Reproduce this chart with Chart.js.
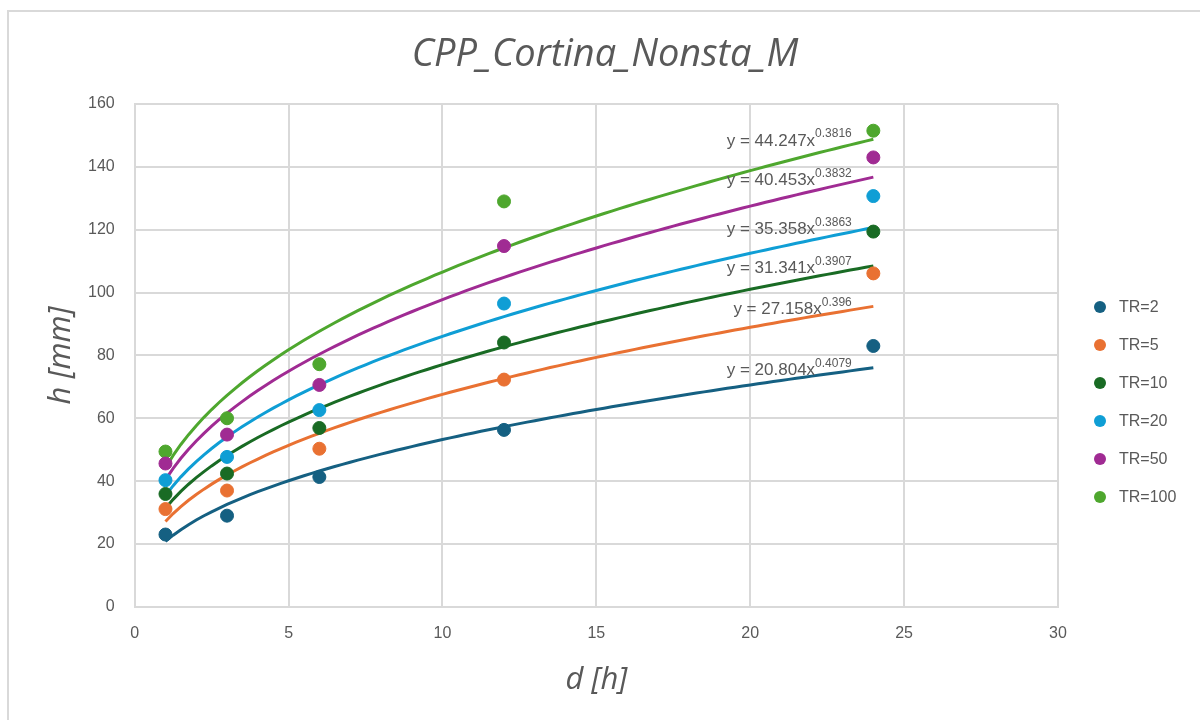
<!DOCTYPE html>
<html>
<head>
<meta charset="utf-8">
<script src="https://cdn.jsdelivr.net/npm/chart.js@4"></script>
<style>
  html, body { margin: 0; padding: 0; background: #fff; }
  #wrap { width: 1200px; height: 720px; position: relative; }
</style>
</head>
<body>
<div id="wrap"><canvas id="chart" width="1200" height="720"></canvas></div>
<script>
// -------------------------    Data    -------------------------

var chartTitle = 'CPP_Cortina_Nonsta_M';
var durations = [1, 3, 6, 12, 24];
var seriesNames = ['TR=2', 'TR=5', 'TR=10', 'TR=20', 'TR=50', 'TR=100'];

var tr2 = [23.0, 29.0, 41.3, 56.3, 83.0];
var tr5 = [31.1, 37.0, 50.3, 72.3, 106.1];
var tr10 = [35.9, 42.4, 56.9, 84.1, 119.4];
var tr20 = [40.3, 47.7, 62.6, 96.5, 130.7];
var tr50 = [45.6, 54.8, 70.6, 114.8, 143.0];
var tr100 = [49.4, 60.0, 77.2, 129.0, 151.5];

// power trendlines y = a * x^b, as printed on the chart
var trendA = [20.804, 27.158, 31.341, 35.358, 40.453, 44.247];
var trendB = [0.4079, 0.396, 0.3907, 0.3863, 0.3832, 0.3816];
var trendA_text = ['20.804', '27.158', '31.341', '35.358', '40.453', '44.247'];
var trendB_text = ['0.4079', '0.396', '0.3907', '0.3863', '0.3832', '0.3816'];

var colors = ['#156082', '#e97132', '#196b24', '#0f9ed5', '#a02b93', '#4ea72e'];

var xTicks = [0, 5, 10, 15, 20, 25, 30];
var yTicks = [0, 20, 40, 60, 80, 100, 120, 140, 160];

// -------------------------    Datasets    -------------------------

var allValues = [tr2, tr5, tr10, tr20, tr50, tr100];
var datasets = [];
var trendX = [];
for (var t = 1; t <= 24.0001; t += 0.25) trendX.push(t);

allValues.forEach(function (vals, i) {
    datasets.push({
        label: seriesNames[i],
        data: durations.map(function (d, k) { return { x: d, y: vals[k] }; }),
        backgroundColor: colors[i],
        borderColor: colors[i],
        pointRadius: 6.5,
        pointHoverRadius: 6.5,
        showLine: false,
        order: 1
    });
});

allValues.forEach(function (vals, i) {
    datasets.push({
        label: 'trend ' + seriesNames[i],
        isTrend: true,
        data: trendX.map(function (x) { return { x: x, y: trendA[i] * Math.pow(x, trendB[i]) }; }),
        borderColor: colors[i],
        borderWidth: 3,
        pointRadius: 0,
        showLine: true,
        fill: false,
        tension: 0,
        order: 2
    });
});

// trendline label anchors (data units, right edge / middle)
var labelAnchor = [[23.3, 75.6], [23.3, 94.9], [23.3, 107.9], [23.3, 120.3], [23.3, 135.9], [23.3, 148.6]];

// -------------------------    Plugins    -------------------------

var FONT = '"Liberation Sans", Arial, sans-serif';

var trendLabels = {
    id: 'trendLabels',
    afterDatasetsDraw: function (chart) {
        var ctx = chart.ctx;
        var xs = chart.scales.x, ys = chart.scales.y;
        ctx.save();
        ctx.fillStyle = '#595959';
        ctx.textBaseline = 'middle';
        ctx.textAlign = 'left';
        trendA_text.forEach(function (a, i) {
            var main = 'y = ' + a + 'x';
            var sup = trendB_text[i];
            ctx.font = '17px ' + FONT;
            var wMain = ctx.measureText(main).width;
            ctx.font = '12px ' + FONT;
            var wSup = ctx.measureText(sup).width;
            var right = xs.getPixelForValue(labelAnchor[i][0]);
            var yMid = ys.getPixelForValue(labelAnchor[i][1]);
            var left = right - wMain - wSup;
            ctx.font = '17px ' + FONT;
            ctx.fillText(main, left, yMid + 1);
            ctx.font = '12px ' + FONT;
            ctx.fillText(sup, left + wMain, yMid - 6);
        });
        ctx.restore();
    }
};

// title and legend drawn by hand so they sit where the original has them
var titleAndLegend = {
    id: 'titleAndLegend',
    afterDraw: function (chart) {
        var ctx = chart.ctx;
        ctx.save();
        ctx.fillStyle = '#595959';
        ctx.textAlign = 'center';
        ctx.textBaseline = 'middle';
        ctx.font = 'italic 38px "Open Sans", sans-serif';
        ctx.fillText(chartTitle, 605, 55);

        ctx.font = '16px ' + FONT;
        ctx.textAlign = 'left';
        seriesNames.forEach(function (name, i) {
            var y = 307 + i * 38;
            ctx.fillStyle = colors[i];
            ctx.beginPath();
            ctx.arc(1100, y, 6, 0, Math.PI * 2);
            ctx.fill();
            ctx.fillStyle = '#595959';
            ctx.fillText(name, 1119, y + 1);
        });
        ctx.restore();
    }
};

var frame = {
    id: 'frame',
    beforeDraw: function (chart) {
        var ctx = chart.ctx;
        ctx.save();
        ctx.fillStyle = '#ffffff';
        ctx.fillRect(0, 0, chart.width, chart.height);
        ctx.strokeStyle = '#d9d9d9';
        ctx.lineWidth = 2;
        ctx.beginPath();
        ctx.moveTo(8, 720);
        ctx.lineTo(8, 11);
        ctx.lineTo(1200, 11);
        ctx.stroke();
        ctx.restore();
    }
};

// -------------------------    Chart Setup    -------------------------

var ctx = document.getElementById('chart').getContext('2d');
var chart = new Chart(ctx, {
    type: 'scatter',
    data: { datasets: datasets },
    plugins: [frame, trendLabels, titleAndLegend],
    options: {
        responsive: false,
        animation: false,
        layout: { padding: { left: 46, right: 142, top: 104, bottom: 24 } },
        plugins: {
            title: { display: false },
            legend: { display: false },
            tooltip: { enabled: false }
        },
        scales: {
            x: {
                type: 'linear',
                min: 0,
                max: 30,
                afterBuildTicks: function (axis) { axis.ticks = xTicks.map(function (v) { return { value: v }; }); },
                grid: { color: '#d9d9d9', lineWidth: 2, drawTicks: false },
                border: { color: '#d9d9d9', width: 2 },
                ticks: { color: '#595959', font: { family: FONT, size: 16 }, padding: 17 },
                title: {
                    display: true,
                    text: 'd [h]',
                    color: '#595959',
                    font: { family: '"Open Sans", sans-serif', size: 31, style: 'italic', lineHeight: 1.0 },
                    padding: { top: 5, bottom: 0 }
                }
            },
            y: {
                type: 'linear',
                min: 0,
                max: 160,
                afterBuildTicks: function (axis) { axis.ticks = yTicks.map(function (v) { return { value: v }; }); },
                grid: { color: '#d9d9d9', lineWidth: 2, drawTicks: false },
                border: { color: '#d9d9d9', width: 2 },
                ticks: { color: '#595959', font: { family: FONT, size: 16 }, padding: 20 },
                title: {
                    display: true,
                    text: 'h [mm]',
                    color: '#595959',
                    font: { family: '"Open Sans", sans-serif', size: 31, style: 'italic', lineHeight: 1.0 },
                    padding: { top: 0, bottom: -9 }
                }
            }
        }
    }
});
</script>
</body>
</html>
